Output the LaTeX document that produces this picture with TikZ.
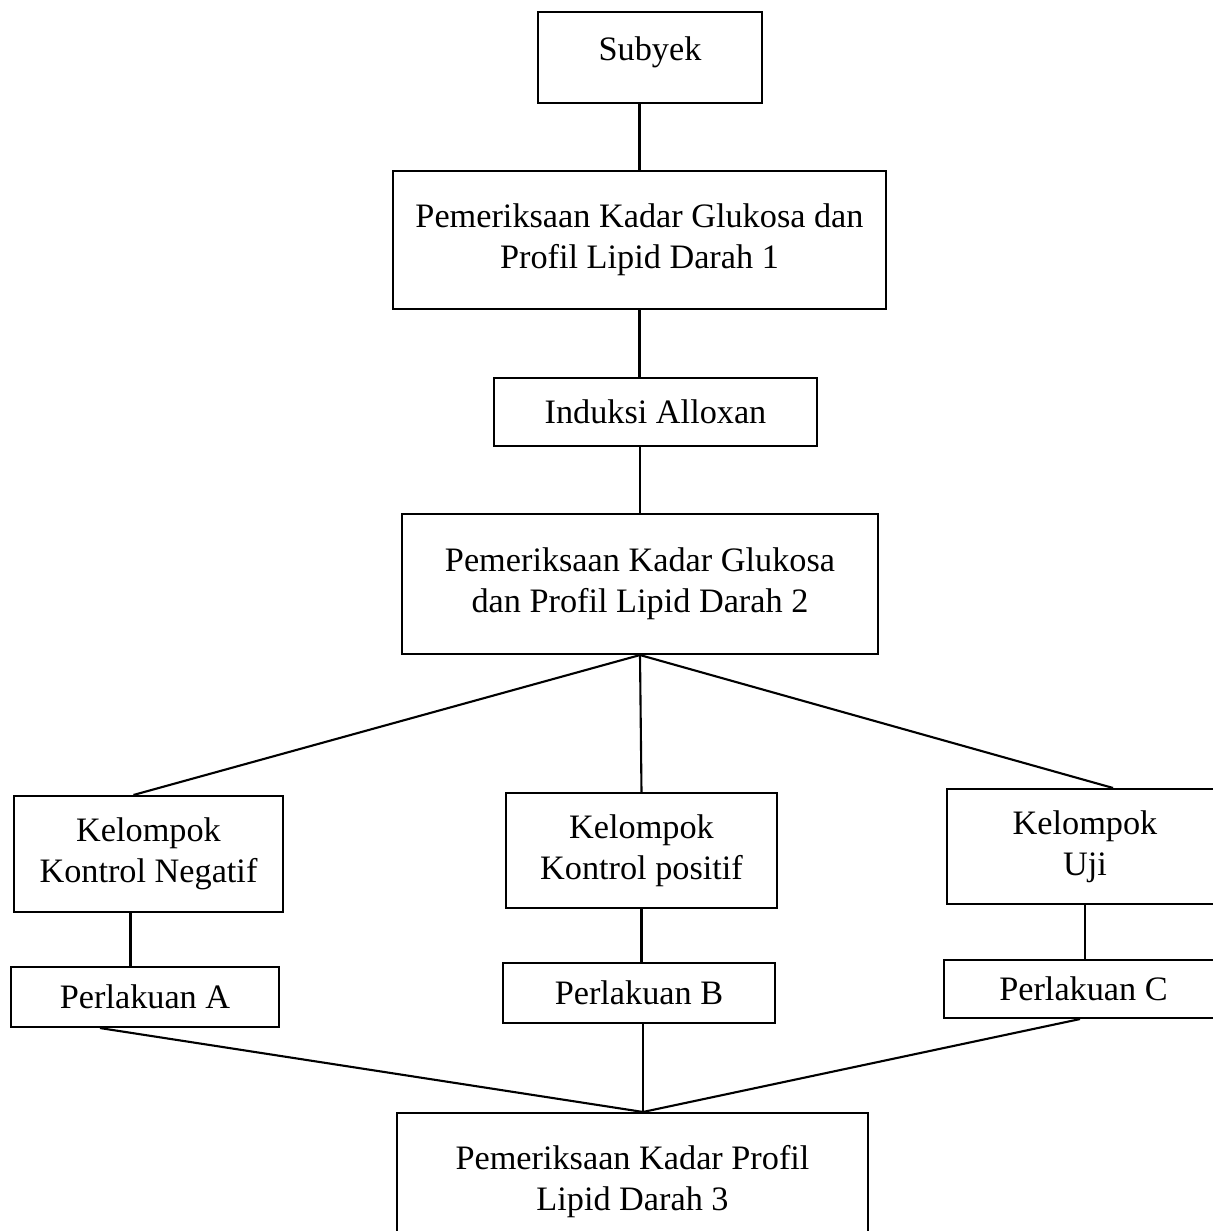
\documentclass[tikz,border=0pt]{standalone}
\usepackage{fontspec}
\setmainfont{Liberation Serif}
\usetikzlibrary{positioning}
\usetikzlibrary{calc}

\begin{document}
\begin{tikzpicture}[x=0.02cm, y=-0.02cm, line width=1.2pt, every node/.style={draw, rectangle, align=center, inner sep=0pt, font=\fontsize{19.5}{23.5}\selectfont}]
			\useasboundingbox (0,0) rectangle (1213,1231);
			\foreach \name/\x/\y/\w/\h/\txt in {subyek/650/57.5/4.48/1.82/{Subyek\\[-13pt]}, pemA/639.5/240/9.86/2.76/{Pemeriksaan Kadar Glukosa dan\\Profil Lipid Darah 1}, induksi/655.5/412/6.46/1.36/{Induksi Alloxan}, pemB/640/584/9.52/2.8/{Pemeriksaan Kadar Glukosa\\dan Profil Lipid Darah 2}, neg/148.5/854/5.38/2.32/{Kelompok\\Kontrol Negatif}, pos/641.5/850.5/5.42/2.3/{Kelompok\\Kontrol positif}, uji/1085/846.5/5.52/2.3/{Kelompok\\Uji}, perA/145/997/5.36/1.2/{Perlakuan A}, perB/639/993/5.44/1.2/{Perlakuan B}, perC/1083.5/989/5.58/1.16/{Perlakuan C}, pemC/632.5/1181.5/9.42/2.74/{Pemeriksaan Kadar Profil\\Lipid Darah 3}}
			{
				\node[minimum width=\w cm, minimum height=\h cm](\name) at (\x,\y){\txt};
			}
			\coordinate (meet) at ([xshift=0.21cm]pemC.north);
			\draw[-] (pemA.north) -- (pemA.north |- subyek.south);
			\draw[-] (pemA.south) -- (pemA.south |- induksi.north);
			\draw[-] (pemB.north |- induksi.south) -- (pemB.north);
			\draw[-] (pemB.south) -- ([xshift=-0.3cm]neg.north);
			\draw[-] (pemB.south) -- (pos.north);
			\draw[-] (pemB.south) -- ([xshift=0.56cm]uji.north);
			\draw[-] ([xshift=-0.36cm]neg.south) -- ([xshift=-0.36cm]neg.south |- perA.north);
			\draw[-] (pos.south) -- (pos.south |- perB.north);
			\draw[-] (uji.south) -- (uji.south |- perC.north);
			\draw[-] ([xshift=-0.9cm]perA.south) -- (meet);
			\draw[-] (meet |- perB.south) -- (meet);
			\draw[-] ([xshift=-0.07cm]perC.south) -- (meet);
		\end{tikzpicture}
\end{document}
